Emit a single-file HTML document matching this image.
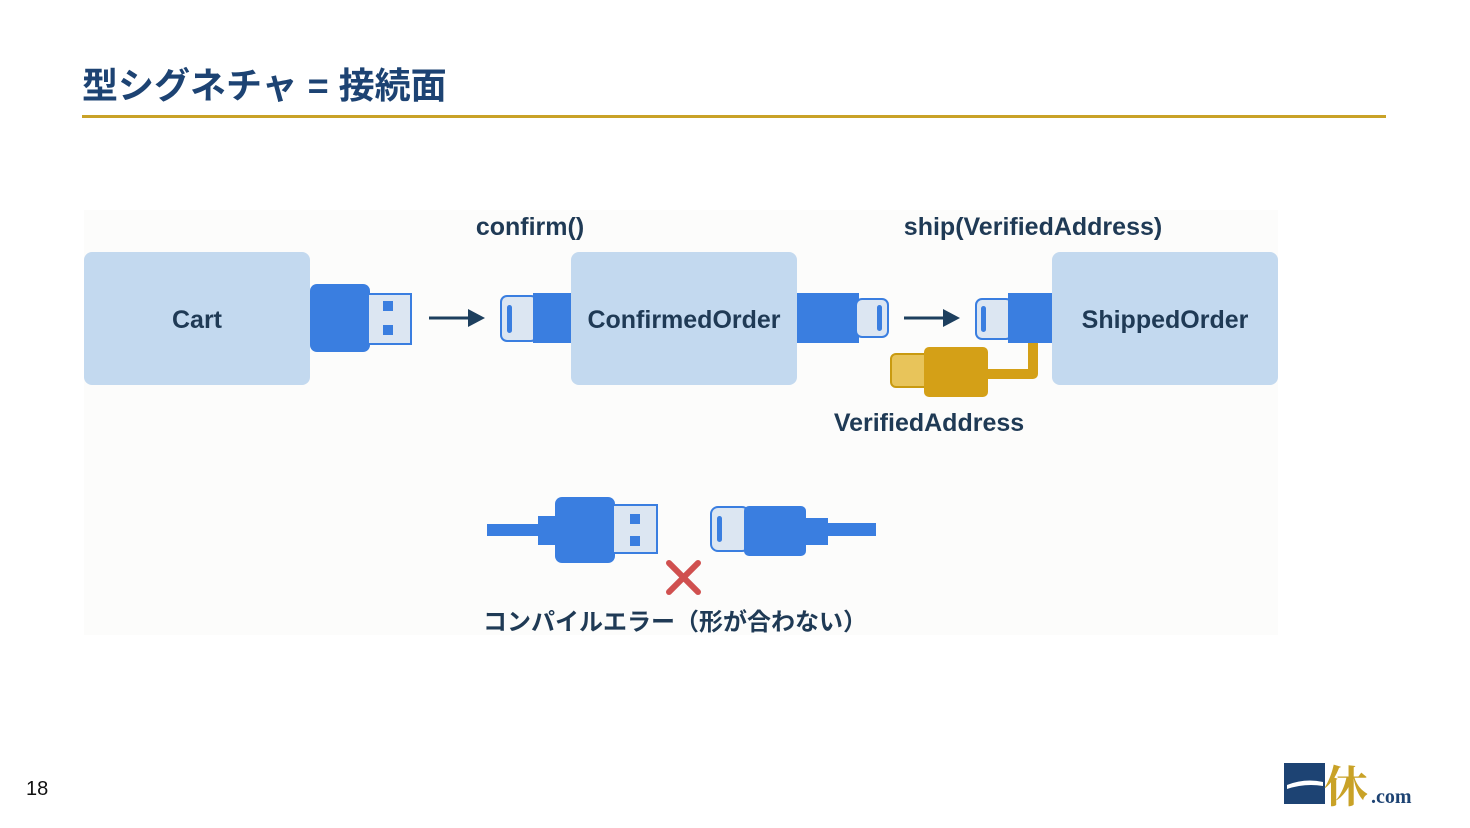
<!DOCTYPE html>
<html><head><meta charset="utf-8">
<style>
html,body{margin:0;padding:0;background:#fff;}
body{width:1470px;height:828px;overflow:hidden;position:relative;}
svg{position:absolute;left:0;top:0;}
text{font-family:"Liberation Sans","Noto Sans CJK JP",sans-serif;}
</style></head><body>
<svg width="1470" height="828" viewBox="0 0 1470 828" xmlns="http://www.w3.org/2000/svg">
<text x="82" y="98" font-size="36" font-weight="bold" fill="#1d4373">型シグネチャ = 接続面</text>
<rect x="82" y="115" width="1304" height="3" fill="#c9a227"/>
<rect x="84" y="210" width="1194" height="425" fill="#fcfcfb"/>

<rect x="84" y="252" width="226" height="133" rx="8" fill="#c3d9ef"/>
<rect x="571" y="252" width="226" height="133" rx="8" fill="#c3d9ef"/>
<rect x="1052" y="252" width="226" height="133" rx="8" fill="#c3d9ef"/>
<g font-size="25" font-weight="bold" fill="#1f3a55" text-anchor="middle">
<text x="197" y="328">Cart</text>
<text x="684" y="328">ConfirmedOrder</text>
<text x="1165" y="328">ShippedOrder</text>
<text x="530" y="235">confirm()</text>
<text x="1033" y="235">ship(VerifiedAddress)</text>
<text x="929" y="431">VerifiedAddress</text>
</g>

<rect x="310" y="284" width="60" height="68" rx="7" fill="#3a7ee0"/>
<rect x="368" y="294" width="43" height="50" fill="#dce6f2" stroke="#3a7ee0" stroke-width="2"/>
<rect x="383" y="301" width="10" height="10" fill="#3a7ee0"/>
<rect x="383" y="325" width="10" height="10" fill="#3a7ee0"/>
<line x1="429" y1="318" x2="470" y2="318" stroke="#1d3f5e" stroke-width="3"/>
<polygon points="468,309 485,318 468,327" fill="#1d3f5e"/>
<rect x="501" y="296" width="36" height="45" rx="6" fill="#dce6f2" stroke="#3a7ee0" stroke-width="2"/>
<rect x="507" y="305" width="5" height="28" rx="2.5" fill="#3a7ee0"/>
<rect x="533" y="293" width="38" height="50" fill="#3a7ee0"/>
<rect x="797" y="293" width="62" height="50" fill="#3a7ee0"/>
<rect x="856" y="299" width="32" height="38" rx="6" fill="#dce6f2" stroke="#3a7ee0" stroke-width="2"/>
<rect x="877" y="305" width="5" height="26" rx="2.5" fill="#3a7ee0"/>
<line x1="904" y1="318" x2="945" y2="318" stroke="#1d3f5e" stroke-width="3"/>
<polygon points="943,309 960,318 943,327" fill="#1d3f5e"/>
<rect x="976" y="299" width="36" height="40" rx="6" fill="#dce6f2" stroke="#3a7ee0" stroke-width="2"/>
<rect x="981" y="306" width="5" height="26" rx="2.5" fill="#3a7ee0"/>
<rect x="1008" y="293" width="44" height="50" fill="#3a7ee0"/>
<path d="M1033,343 V374 H988" fill="none" stroke="#d4a017" stroke-width="10" stroke-linejoin="round"/>
<rect x="891" y="354" width="38" height="33" rx="5" fill="#e8c45a" stroke="#c99a10" stroke-width="2"/>
<rect x="924" y="347" width="64" height="50" rx="5" fill="#d4a017"/>

<rect x="487" y="524" width="55" height="12" fill="#3a7ee0"/>
<rect x="538" y="516" width="20" height="29" fill="#3a7ee0"/>
<rect x="555" y="497" width="60" height="66" rx="7" fill="#3a7ee0"/>
<rect x="613" y="505" width="44" height="48" fill="#dce6f2" stroke="#3a7ee0" stroke-width="2"/>
<rect x="630" y="514" width="10" height="10" fill="#3a7ee0"/>
<rect x="630" y="536" width="10" height="10" fill="#3a7ee0"/>
<rect x="711" y="507" width="38" height="44" rx="7" fill="#dce6f2" stroke="#3a7ee0" stroke-width="2"/>
<rect x="717" y="516" width="5" height="26" rx="2.5" fill="#3a7ee0"/>
<rect x="744" y="506" width="62" height="50" rx="5" fill="#3a7ee0"/>
<rect x="804" y="518" width="24" height="27" fill="#3a7ee0"/>
<rect x="826" y="523" width="50" height="13" fill="#3a7ee0"/>
<g stroke="#d0504f" stroke-width="6" stroke-linecap="round">
<line x1="669" y1="563" x2="698" y2="592"/>
<line x1="698" y1="563" x2="669" y2="592"/>
</g>
<text x="675" y="630" text-anchor="middle" font-size="24" font-weight="bold" fill="#1f3a55">コンパイルエラー（形が合わない）</text>

<text x="26" y="795" font-size="20" fill="#111">18</text>
<rect x="1284" y="763" width="41" height="41" fill="#1d4373"/>
<path d="M1287,785 Q1305,778 1323,782 L1323,786 Q1305,783 1287,789 Z" fill="#fff"/>
<text x="1324" y="802" font-size="44" font-weight="bold" fill="#c9a227" style="font-family:'Noto Serif CJK SC',serif">休</text>
<text x="1371" y="803" font-size="20" font-weight="bold" fill="#1d4373" style="font-family:'Liberation Serif',serif">.com</text>
</svg>
</body></html>
